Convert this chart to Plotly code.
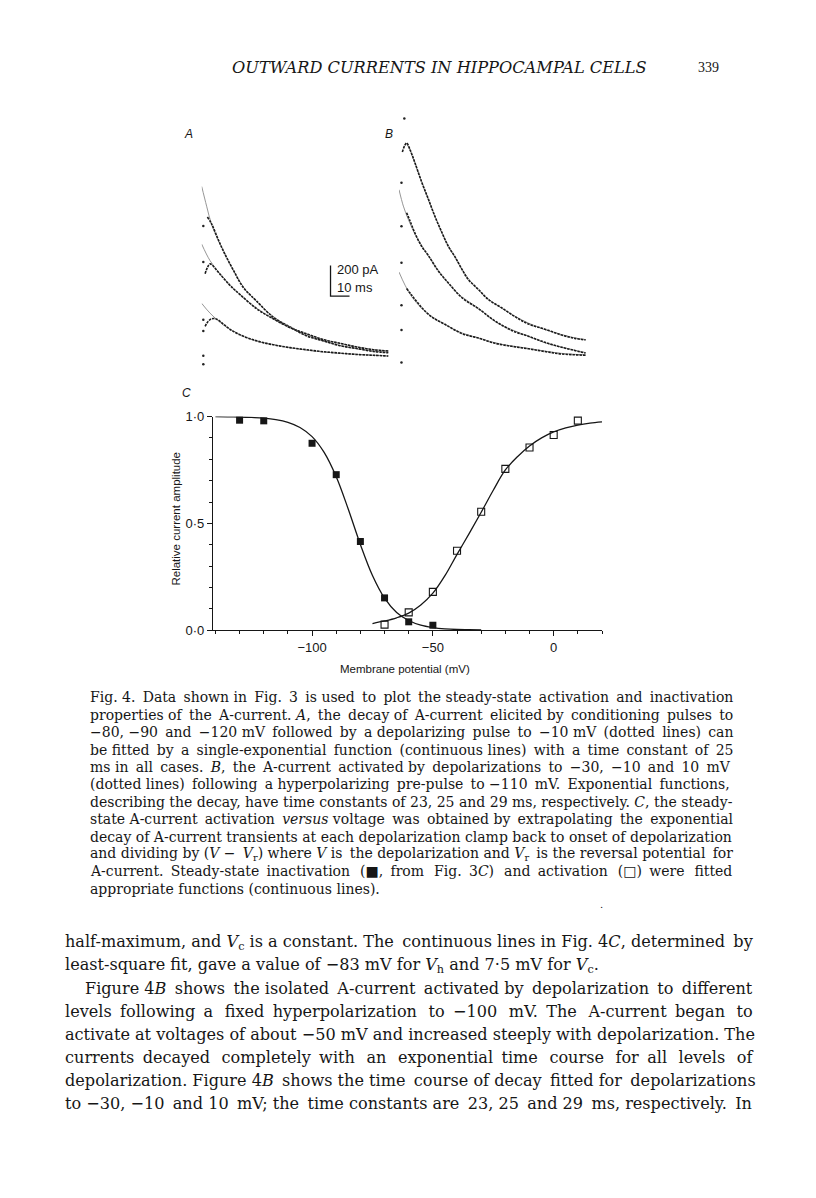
import plotly.graph_objects as go

# ---------------- data: panel C (steady-state curves) ----------------
INACT_V = [-130, -120, -110, -100, -90, -80, -70, -60, -50]
INACT_AMP = [0.983, 0.980, 1.003, 0.875, 0.728, 0.415, 0.151, 0.039, 0.023]
ACT_V = [-70, -60, -50, -40, -30, -20, -10, 0, 10]
ACT_AMP = [0.026, 0.083, 0.179, 0.372, 0.554, 0.755, 0.855, 0.914, 0.981]

INACT_FIT_V = [-140, -135, -130, -125, -120, -115, -110, -105, -100, -95, -90, -85,
               -80, -75, -70, -65, -60, -55, -50, -45, -40, -35, -30]
INACT_FIT = [1.0, 0.999, 0.998, 0.996, 0.993, 0.986, 0.973, 0.949, 0.906, 0.832, 0.718, 0.566,
             0.401, 0.256, 0.150, 0.083, 0.045, 0.023, 0.012, 0.006, 0.003, 0.002, 0.001]
ACT_FIT_V = [-75, -70, -65, -60, -55, -50, -45, -40, -35, -30, -25, -20, -15, -10, -5, 0, 5, 10, 15, 20]
ACT_FIT = [0.031, 0.043, 0.058, 0.080, 0.118, 0.173, 0.255, 0.355, 0.452, 0.552, 0.655, 0.750,
           0.812, 0.862, 0.900, 0.928, 0.947, 0.960, 0.969, 0.975]

X_TICKS = [-100, -50, 0]
X_TICK_TEXT = ["\u2212100", "\u221250", "0"]
Y_TICKS = [0, 0.5, 1.0]
Y_TICK_TEXT = ["0\u00b70", "0\u00b75", "1\u00b70"]

# ---------------- data: panel A (time in ms, current in pA) ----------------
A1_FIT_T = [0, 2.6, 5.2, 8.8, 12.3, 16.6, 21.9, 28.9, 37.7, 46.5, 55.3, 64, 72.8, 81.6, 90.3, 98.2]
A1_FIT_I = [1125, 996, 877, 770, 684, 576, 469, 372, 275, 204, 152, 114, 86, 64, 49, 41]
A2_FIT_T = [0, 4.4, 9.6, 14.9, 20.2, 28.9, 37.7, 46.5, 55.3, 64, 72.8, 81.6, 90.3, 98.2]
A2_FIT_I = [748, 640, 555, 482, 418, 330, 258, 204, 160, 126, 99, 77, 60, 49]
A3_FIT_T = [0, 4.4, 11.4, 20.2, 28.9, 37.7, 46.5, 64, 81.6, 98.2]
A3_FIT_I = [361, 297, 221, 157, 114, 92, 71, 43, 28, 17]

A1_DAT_T = [3.0, 5.2, 8.8, 12.3, 16.6, 21.9, 28.9, 37.7, 46.5, 55.3, 64, 72.8, 81.6, 90.3, 98.2]
A1_DAT_I = [925, 880, 775, 680, 580, 465, 376, 270, 207, 148, 116, 84, 66, 47, 38]
A2_DAT_T = [1.8, 3.2, 4.4, 9.6, 14.9, 20.2, 28.9, 37.7, 46.5, 55.3, 64, 72.8, 81.6, 90.3, 98.2]
A2_DAT_I = [555, 600, 619, 552, 478, 418, 326, 260, 202, 162, 124, 100, 76, 58, 50]
A3_DAT_T = [1.8, 3.5, 5.2, 7.9, 11.4, 15, 20.2, 28.9, 37.7, 46.5, 55.3, 64, 72.8, 81.6, 90.3, 98.2]
A3_DAT_I = [211, 245, 260, 258, 225, 190, 155, 116, 90, 72, 58, 45, 36, 27, 22, 17]
A_ART_T = [0.85, 0.85, 0.85, 0.85, 0.85, 0.85]
A_ART_I = [866, 632, 254, 181, 19, -37]

# ---------------- data: panel B ----------------
B1_FIT_T = [4.0, 5.8, 8.4, 11.9, 15.4, 18.9, 22.5, 26, 29.5, 33, 36.5, 41.8, 47, 54, 61.1, 68.1, 76.8, 85.6, 92.6, 98.2]
B1_FIT_I = [1430, 1387, 1301, 1183, 1065, 957, 849, 763, 688, 613, 548, 473, 415, 355, 301, 258, 215, 183, 161, 150]
B2_FIT_T = [0, 2.3, 4.9, 8.4, 11.9, 15.4, 20.7, 26.0, 33.0, 41.8, 50.5, 59.3, 68.1, 76.8, 85.6, 98.2]
B2_FIT_I = [1129, 1022, 935, 839, 763, 699, 602, 516, 430, 355, 269, 215, 172, 129, 101, 65]
B3_FIT_T = [0, 3.2, 6.7, 11.9, 17.2, 24.2, 33.0, 41.8, 50.5, 59.3, 68.1, 76.8, 85.6, 98.2]
B3_FIT_I = [591, 505, 430, 355, 301, 247, 194, 161, 129, 108, 92, 75, 60, 50]

B1_DAT_T = [1.75, 4.0, 5.8, 8.4, 11.9, 15.4, 18.9, 22.5, 26, 29.5, 33, 36.5, 41.8, 47, 54, 61.1, 68.1, 76.8, 85.6, 92.6, 98.2]
B1_DAT_I = [1376, 1434, 1391, 1305, 1180, 1070, 955, 852, 758, 690, 612, 542, 478, 412, 358, 300, 252, 218, 180, 158, 148]
B2_DAT_T = [4.0, 5.8, 8.4, 11.9, 15.4, 20.7, 26, 33, 41.8, 50.5, 59.3, 68.1, 76.8, 85.6, 98.2]
B2_DAT_I = [979, 925, 845, 760, 700, 598, 520, 425, 352, 272, 210, 172, 132, 100, 62]
B3_DAT_T = [4.0, 6.7, 11.9, 17.2, 24.2, 33, 41.8, 50.5, 59.3, 68.1, 76.8, 85.6, 98.2]
B3_DAT_I = [484, 440, 360, 298, 250, 190, 160, 126, 106, 90, 72, 56, 48]
B_ART_T = [2.8, 1.3, 1.3, 1.3, 1.3, 1.3, 1.3]
B_ART_I = [1594, 1174, 890, 652, 374, 213, 0]

SCALE_PA = 200
SCALE_MS = 10
SCALE_T0 = 67.8
SCALE_I0 = 408

# ---------------- text ----------------
HEADER = "OUTWARD CURRENTS IN HIPPOCAMPAL CELLS"
PAGE_NO = "339"
CAPTION = [
    "Fig. 4. Data shown in Fig. 3 is used to plot the steady-state activation and inactivation",
    "properties of the A-current. <i>A</i>, the decay of A-current elicited by conditioning pulses to",
    "\u221280, \u221290 and \u2212120 mV followed by a depolarizing pulse to \u221210 mV (dotted lines) can",
    "be fitted by a single-exponential function (continuous lines) with a time constant of 25",
    "ms in all cases. <i>B</i>, the A-current activated by depolarizations to \u221230, \u221210 and 10 mV",
    "(dotted lines) following a hyperpolarizing pre-pulse to \u2212110 mV. Exponential functions,",
    "describing the decay, have time constants of 23, 25 and 29 ms, respectively. <i>C</i>, the steady-",
    "state A-current activation <i>versus</i> voltage was obtained by extrapolating the exponential",
    "decay of A-current transients at each depolarization clamp back to onset of depolarization",
    "and dividing by (<i>V</i> \u2212 <i>V</i><sub>r</sub>) where <i>V</i> is the depolarization and <i>V</i><sub>r</sub> is the reversal potential for",
    "A-current. Steady-state inactivation (\u25a0, from Fig. 3<i>C</i>) and activation (\u25a1) were fitted",
    "appropriate functions (continuous lines).",
]
BODY = [
    "half-maximum, and <i>V</i><sub>c</sub> is a constant. The continuous lines in Fig. 4<i>C</i>, determined by",
    "least-square fit, gave a value of \u221283 mV for <i>V</i><sub>h</sub> and 7\u00b75 mV for <i>V</i><sub>c</sub>.",
    "Figure 4<i>B</i> shows the isolated A-current activated by depolarization to different",
    "levels following a fixed hyperpolarization to \u2212100 mV. The A-current began to",
    "activate at voltages of about \u221250 mV and increased steeply with depolarization. The",
    "currents decayed completely with an exponential time course for all levels of",
    "depolarization. Figure 4<i>B</i> shows the time course of decay fitted for depolarizations",
    "to \u221230, \u221210 and 10 mV; the time constants are 23, 25 and 29 ms, respectively. In",
]

# layout helpers (typesetting): natural line widths in px of the serif face, measured at
# a reference size, used to pad word gaps so that lines are justified like the page
CAP_REF_SIZE = 14.8
CAP_REF_W = [647, 653, 647, 647, 640, 657, 678, 658, 678, 667, 631, None]
BODY_REF_SIZE = 16.4
BODY_REF_W = [694, None, 657, 648, 704, 642, 690, 679]

# page is 816x1198; the browser body keeps an 8 px margin, so the figure is
# placed 8 px in and sized to fill the rest of the window
OFF = 8
W, H = 816 - OFF, 1198 - OFF


def fx(x):
    return (x - OFF) / W


def fy(y):
    return 1 - (y - OFF) / H


SANS = "Liberation Sans, Arial, sans-serif"
SERIF = "DejaVu Serif, serif"
TIMES = "Liberation Serif, Times New Roman, serif"
INK = "#161616"

fig = go.Figure()

# ---- panel C ----
fig.add_trace(go.Scatter(x=INACT_FIT_V, y=INACT_FIT, mode="lines", line=dict(color=INK, width=1.3, shape="spline"),
                         xaxis="x", yaxis="y", cliponaxis=False))
fig.add_trace(go.Scatter(x=ACT_FIT_V, y=ACT_FIT, mode="lines", line=dict(color=INK, width=1.3, shape="spline"),
                         xaxis="x", yaxis="y", cliponaxis=False))
fig.add_trace(go.Scatter(x=INACT_V, y=INACT_AMP, mode="markers",
                         marker=dict(symbol="square", size=7, color=INK, line=dict(width=0)),
                         xaxis="x", yaxis="y", cliponaxis=False))
fig.add_trace(go.Scatter(x=ACT_V, y=ACT_AMP, mode="markers",
                         marker=dict(symbol="square-open", size=7, color=INK, line=dict(width=1.1)),
                         xaxis="x", yaxis="y", cliponaxis=False))


# ---- panels A and B ----
def trace_pair(ft, fi, dt, di, xa, ya):
    fig.add_trace(go.Scatter(x=ft, y=fi, mode="lines", line=dict(color="#8a8a8a", width=0.9, shape="spline"),
                             xaxis=xa, yaxis=ya, cliponaxis=False))
    fig.add_trace(go.Scatter(x=dt, y=di, mode="lines",
                             line=dict(color="#1a1a1a", width=1.6, dash="2.5px,1px", shape="spline"),
                             xaxis=xa, yaxis=ya, cliponaxis=False))


trace_pair(A1_FIT_T, A1_FIT_I, A1_DAT_T, A1_DAT_I, "x2", "y2")
trace_pair(A2_FIT_T, A2_FIT_I, A2_DAT_T, A2_DAT_I, "x2", "y2")
trace_pair(A3_FIT_T, A3_FIT_I, A3_DAT_T, A3_DAT_I, "x2", "y2")
trace_pair(B1_FIT_T, B1_FIT_I, B1_DAT_T, B1_DAT_I, "x3", "y3")
trace_pair(B2_FIT_T, B2_FIT_I, B2_DAT_T, B2_DAT_I, "x3", "y3")
trace_pair(B3_FIT_T, B3_FIT_I, B3_DAT_T, B3_DAT_I, "x3", "y3")

fig.add_trace(go.Scatter(x=A_ART_T, y=A_ART_I, mode="markers", marker=dict(size=2.5, color="#222"),
                         xaxis="x2", yaxis="y2", cliponaxis=False))
fig.add_trace(go.Scatter(x=B_ART_T, y=B_ART_I, mode="markers", marker=dict(size=2.5, color="#222"),
                         xaxis="x3", yaxis="y3", cliponaxis=False))

# scale bar
fig.add_trace(go.Scatter(x=[SCALE_T0, SCALE_T0, SCALE_T0 + SCALE_MS],
                         y=[SCALE_I0 + SCALE_PA, SCALE_I0, SCALE_I0],
                         mode="lines", line=dict(color=INK, width=1.3),
                         xaxis="x2", yaxis="y2", cliponaxis=False))

hidden = dict(visible=False, showgrid=False, zeroline=False, fixedrange=True)

layout = dict(
    width=W, height=H, autosize=False,
    margin=dict(l=0, r=0, t=0, b=0),
    paper_bgcolor="white", plot_bgcolor="white",
    showlegend=False, hovermode=False,
    font=dict(family=SANS, color=INK),
    xaxis=dict(domain=[fx(213), fx(602)], range=[-141, 20], anchor="y",
               showline=True, linecolor=INK, linewidth=1.3, showgrid=False, zeroline=False,
               ticks="outside", ticklen=5, tickwidth=1.2, tickcolor=INK,
               tickmode="array", tickvals=X_TICKS, ticktext=X_TICK_TEXT,
               tickfont=dict(family=SANS, size=13, color=INK),
               minor=dict(tickmode="linear", tick0=0, dtick=10, ticks="outside", ticklen=3,
                          tickwidth=1, tickcolor=INK, showgrid=False)),
    yaxis=dict(domain=[fy(631), fy(414.7)], range=[0, 1.0], anchor="x",
               showline=True, linecolor=INK, linewidth=1.3, showgrid=False, zeroline=False,
               ticks="outside", ticklen=5, tickwidth=1.2, tickcolor=INK,
               tickmode="array", tickvals=Y_TICKS, ticktext=Y_TICK_TEXT,
               tickfont=dict(family=SANS, size=13, color=INK),
               minor=dict(tickmode="linear", tick0=0, dtick=0.1, ticks="outside", ticklen=3,
                          tickwidth=1, tickcolor=INK, showgrid=False)),
    xaxis2=dict(domain=[fx(201.7), fx(201.7 + 190)], range=[0, 100], anchor="y2", **hidden),
    yaxis2=dict(domain=[fy(371.5), fy(170)], range=[-100, 1200], anchor="x2", **hidden),
    xaxis3=dict(domain=[fx(399), fx(589)], range=[0, 100], anchor="y3", **hidden),
    yaxis3=dict(domain=[fy(375.5), fy(100)], range=[-100, 1677], anchor="x3", **hidden),
)
fig.update_layout(**layout)

ann = []


def paper_text(x, y, text, size, family=SERIF, xanchor="left", angle=0, style="normal"):
    ann.append(dict(x=fx(x), y=fy(y), xref="paper", yref="paper", text=text, showarrow=False,
                    xanchor=xanchor, yanchor="middle", textangle=angle,
                    font=dict(family=family, size=size, color=INK, style=style)))


THIN = "\u2009"


def justify(text, ref_w, ref_size, size, target):
    """pad word gaps with thin spaces so the line fills the measure"""
    if ref_w is None:
        return text
    natural = ref_w * size / ref_size
    n = max(0, int(round((target - natural) / (0.2 * size))))
    parts = text.split(" ")
    gaps = len(parts) - 1
    if gaps <= 0 or n == 0:
        return text
    out = parts[0]
    for j in range(1, len(parts)):
        k = (j * n) // gaps - ((j - 1) * n) // gaps
        out += " " + THIN * k + parts[j]
    return out


paper_text(439, 61, HEADER, 16.2, xanchor="center", style="italic")
paper_text(696, 61, PAGE_NO, 14, family=TIMES)

paper_text(188, 129, "A", 12, family=SANS, xanchor="center", style="italic")
paper_text(389, 129, "B", 12, family=SANS, xanchor="center", style="italic")
paper_text(186, 391, "C", 12, family=SANS, xanchor="center", style="italic")

ann.append(dict(x=SCALE_T0 + 2.4, y=581, xref="x2", yref="y2", text="200 pA", showarrow=False,
                xanchor="left", yanchor="middle", font=dict(family=SANS, size=13, color=INK)))
ann.append(dict(x=SCALE_T0 + 2.4, y=465, xref="x2", yref="y2", text="10 ms", showarrow=False,
                xanchor="left", yanchor="middle", font=dict(family=SANS, size=13, color=INK)))

paper_text(405, 670, "Membrane potential (mV)", 11.5, family=SANS, xanchor="center")
paper_text(176, 518, "Relative current amplitude", 11.5, family=SANS, xanchor="center", angle=-90)

CAP_SIZE = 14.0
for i, line in enumerate(CAPTION):
    paper_text(88, 699 + i * 17.64, justify(line, CAP_REF_W[i], CAP_REF_SIZE, CAP_SIZE, 642), CAP_SIZE)
paper_text(598, 909, ".", 10)

BODY_SIZE = 16.1
for i, line in enumerate(BODY):
    x0 = 83 if i == 2 else 63
    paper_text(x0, 947 + i * 23.4, justify(line, BODY_REF_W[i], BODY_REF_SIZE, BODY_SIZE, 752 - x0), BODY_SIZE)

fig.update_layout(annotations=ann)

fig.write_html("out.html")
